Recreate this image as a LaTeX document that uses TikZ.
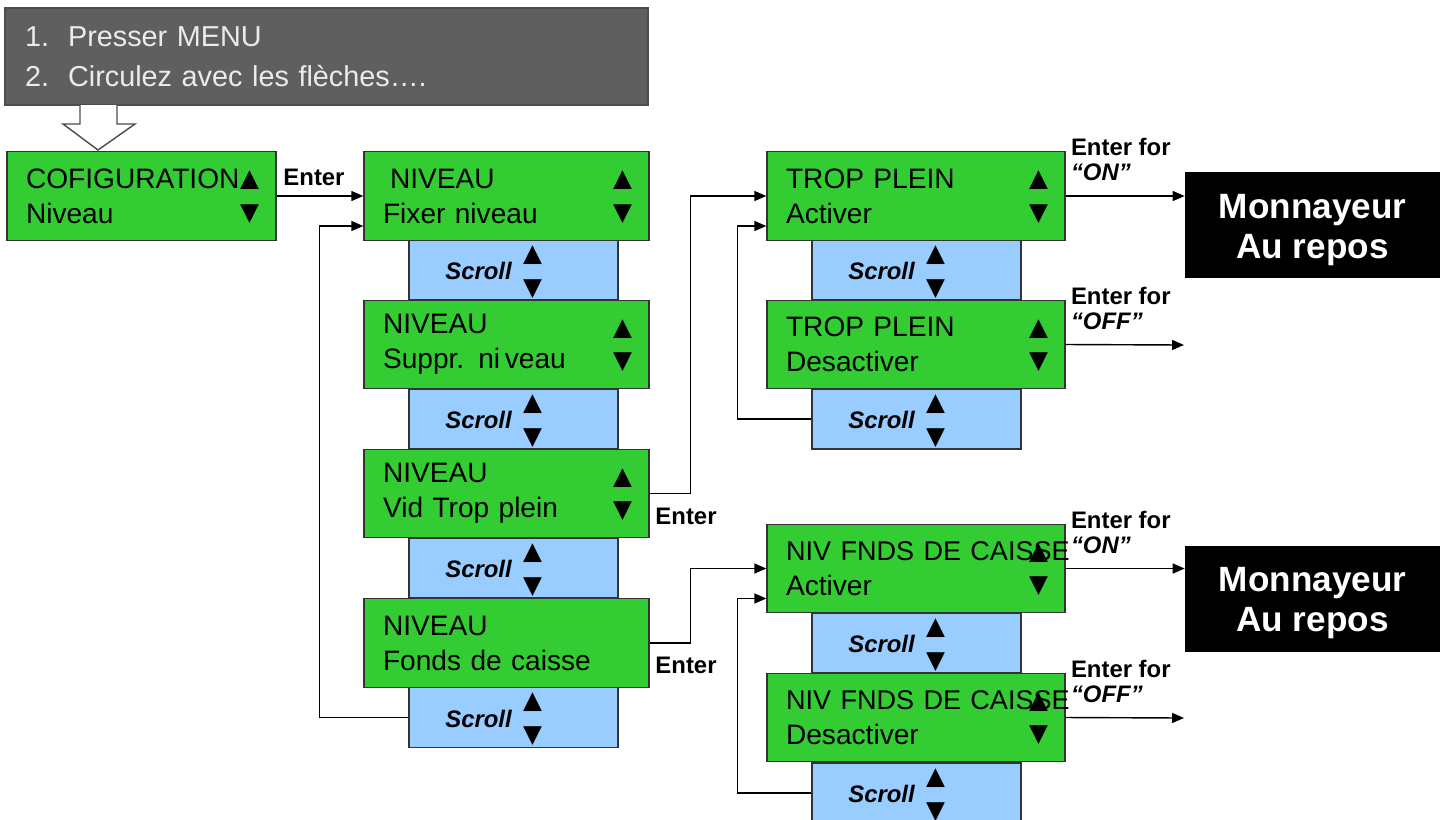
\documentclass[tikz,border=0pt]{standalone}
\usepackage{fontspec}
\setmainfont{Liberation Sans}
\newfontfamily\symfont{DejaVu Sans}
\usetikzlibrary{arrows.meta}
\definecolor{lcdgreen}{HTML}{33CC33}
\definecolor{scrollblue}{HTML}{99CCFF}
\definecolor{hdrgray}{HTML}{5F5F5F}
\newcommand{\up}{{\symfont ▲}}
\newcommand{\dn}{{\symfont ▼}}

\begin{document}
\begin{tikzpicture}[x=0.02cm,y=-0.02cm]
\tikzstyle{hdr}=[draw=black!70,fill=hdrgray,text=white!92!black,line width=0.8pt,minimum height=1.94cm,inner xsep=0.4cm,text width=12.06cm,align=left,font=\fontsize{16.4}{22.8}\selectfont];
\tikzstyle{lcd}=[draw=black!80,fill=lcdgreen,line width=0.8pt,minimum height=1.77cm,inner xsep=0.38cm,align=left,font=\fontsize{16}{19.9}\selectfont];
\tikzstyle{scroll}=[draw=black!80,fill=scrollblue,line width=0.8pt,minimum width=4.18cm,minimum height=1.2cm,inner sep=0pt];
\tikzstyle{scrolltxt}=[xshift=-0.7cm,yshift=-0.02cm,inner sep=0pt,font=\fontsize{13.6}{14}\selectfont\bfseries\itshape];
\tikzstyle{sup}=[xshift=0.38cm,yshift=0.3cm,inner sep=0pt,font=\fontsize{14}{14}\selectfont];
\tikzstyle{sdn}=[xshift=0.38cm,yshift=-0.38cm,inner sep=0pt,font=\fontsize{14}{14}\selectfont];
\tikzstyle{bup}=[xshift=-0.54cm,yshift=0.31cm,inner sep=0pt,font=\fontsize{14}{14}\selectfont];
\tikzstyle{bdn}=[xshift=-0.54cm,yshift=-0.36cm,inner sep=0pt,font=\fontsize{14}{14}\selectfont];
\tikzstyle{rest}=[fill=black,minimum width=5.1cm,minimum height=2.12cm];
\tikzstyle{resttxt}=[text=white,yshift=-0.1cm,align=center,inner sep=0pt,font=\fontsize{20}{22.8}\selectfont\bfseries];
\tikzstyle{enter}=[inner sep=0pt,font=\fontsize{13.6}{14}\selectfont\bfseries];
\tikzstyle{efor}=[anchor=west,align=left,inner sep=0pt,xshift=0.1cm,yshift=-0.17cm,font=\fontsize{13.6}{14.3}\selectfont\bfseries];
\tikzstyle{link}=[-{Triangle[length=0.24cm,width=0.2cm]},line width=0.8pt];
\useasboundingbox (0,0) rectangle (1449,819);

% instructions
\node [hdr] (h) at (326.5,56.5) {\makebox[0.86cm][l]{1.}Presser MENU\\\makebox[0.86cm][l]{2.}Circulez avec les flèches….};
\draw [draw=black!70,fill=white,line width=0.8pt] (80,105) -- (80,124) -- (63,124) -- (98,150) -- (135,124) -- (117,124) -- (117,105);

% scroll bands
\node [scroll] (s1) at (513.5,270) {};
\node [scroll] (s2) at (513.5,419) {};
\node [scroll] (s3) at (513.5,568) {};
\node [scroll] (s4) at (513.5,717.5) {};
\node [scroll] (s5) at (916.5,270) {};
\node [scroll] (s6) at (916.5,419) {};
\node [scroll] (s7) at (916.5,643) {};
\node [scroll] (s8) at (916.5,793) {};

% menu screens
\node [lcd,text width=4.62cm] (c1) at (141.5,196) {\mbox{COFIGURATION}\\Niveau};
\node [lcd,text width=4.94cm] (m1) at (506.5,196) {\hspace*{0.14cm}NIVEAU\\Fixer niveau};
\node [lcd,text width=4.94cm] (m2) at (506.5,344.5) {NIVEAU\\Suppr. ni\,veau};
\node [lcd,text width=4.94cm] (m3) at (506.5,493.5) {NIVEAU\\Vid Trop plein};
\node [lcd,text width=4.94cm] (m4) at (506.5,643) {NIVEAU\\Fonds de caisse};
\node [lcd,text width=5.2cm] (t1) at (916,196) {TROP PLEIN\\Activer};
\node [lcd,text width=5.2cm] (t2) at (916,344.5) {TROP PLEIN\\Desactiver};
\node [lcd,text width=5.2cm] (f1) at (916,568.5) {\mbox{\fontsize{15.4}{19.9}\selectfont NIV FNDS DE CAISSE}\\Activer};
\node [lcd,text width=5.2cm] (f2) at (916,717.5) {\mbox{\fontsize{15.4}{19.9}\selectfont NIV FNDS DE CAISSE}\\Desactiver};
\node [rest] (r1) at (1312.5,225) {};
\node [resttxt] (r1-t) at (r1) {Monnayeur\\Au repos};
\node [rest] (r2) at (1312.5,598.5) {};
\node [resttxt] (r2-t) at (r2) {Monnayeur\\Au repos};

\foreach \b in {c1,m1,m2,m3,t1,t2,f1,f2} {
  \node [bup] (\b-up) at (\b.east) {\up};
  \node [bdn] (\b-dn) at (\b.east) {\dn};
}
\foreach \i in {1,...,8} {
  \node [scrolltxt] (s\i-t) at (s\i) {Scroll};
  \node [sup] (s\i-up) at (s\i) {\up};
  \node [sdn] (s\i-dn) at (s\i) {\dn};
}

% labels
\node [enter] (l1) at (314,177) {Enter};
\node [enter] (l2) at (686,516) {Enter};
\node [enter] (l3) at (686,665) {Enter};
\node [efor] (e1) at (t1.north east) {Enter for\\\textit{“ON”}};
\node [efor] (e2) at (t2.north east) {Enter for\\\textit{“OFF”}};
\node [efor] (e3) at (f1.north east) {Enter for\\\textit{“ON”}};
\node [efor] (e4) at (f2.north east) {Enter for\\\textit{“OFF”}};
\coordinate (o1) at (1184,345);
\coordinate (o2) at (1184,718);

% connectors
\draw [link] (c1) -- (m1);
\draw [link] (s4.west) -- ++(-89,0) |- ([yshift=-0.6cm]m1.west);
\draw [link] (m3.east) -- ++(41,0) |- (t1.west);
\draw [link] (m4.east) -- ++(41,0) |- (f1.west);
\draw [link] (s6.west) -- ++(-74,0) |- ([yshift=-0.6cm]t1.west);
\draw [link] (s8.west) -- ++(-74,0) |- ([yshift=-0.6cm]f1.west);
\draw [link] (t1.east) -- (t1.east -| r1.west);
\draw [link] (t2.east) -- (o1);
\draw [link] (f1.east) -- (f1.east -| r2.west);
\draw [link] (f2.east) -- (o2);
\end{tikzpicture}
\end{document}
